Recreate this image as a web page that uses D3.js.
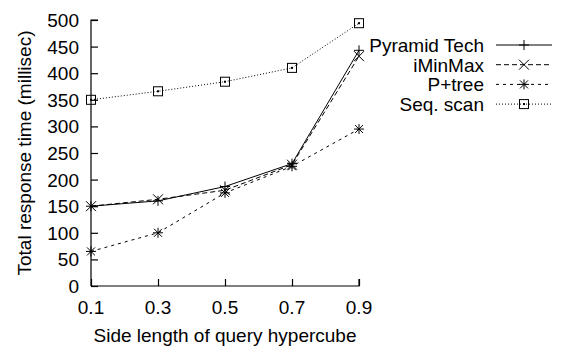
<!DOCTYPE html>
<html>
<head>
<meta charset="utf-8">
<script src="https://cdn.jsdelivr.net/npm/d3@7"></script>
<style>
  html, body { margin: 0; padding: 0; background: #fff; }
  svg { display: block; font-family: "Liberation Sans", Arial, sans-serif; }
</style>
</head>
<body>
<div id="chart"></div>
<script>
var sideLengths = [0.1, 0.3, 0.5, 0.7, 0.9];
var pyramidTech = [150, 160, 187, 230, 443];
var iMinMax = [150, 163, 180, 228, 432];
var pTree = [65, 100, 175, 225, 295];
var seqScan = [350, 366, 384, 410, 494];
var yTicks = [0, 50, 100, 150, 200, 250, 300, 350, 400, 450, 500];

var series = [
  { name: 'Pyramid Tech', values: pyramidTech, dash: null, marker: 'plus' },
  { name: 'iMinMax', values: iMinMax, dash: '5,3', marker: 'cross' },
  { name: 'P+tree', values: pTree, dash: '3,4', marker: 'star' },
  { name: 'Seq. scan', values: seqScan, dash: '1,2', marker: 'square' }
];

var width = 563, height = 350;
var margin = { top: 20, right: 204, bottom: 64, left: 91 };
var innerW = width - margin.left - margin.right;
var innerH = height - margin.top - margin.bottom;
var fontSize = '19px';

var x = d3.scaleLinear().domain([0.1, 0.9]).range([0, innerW]);
var y = d3.scaleLinear().domain([0, 500]).range([innerH, 0]);

var svg = d3.select('#chart').append('svg')
  .attr('width', width).attr('height', height);

var g = svg.append('g').attr('transform', 'translate(' + margin.left + ',' + margin.top + ')');

// axes: ticks point inward
var yAxis = g.append('g').call(d3.axisRight(y).tickValues(yTicks).tickSize(7).tickFormat(''));
yAxis.select('.domain').attr('d', 'M0,' + innerH + 'V0h7');
g.selectAll('.yl').data(yTicks).enter().append('text')
  .attr('x', -12).attr('y', function (d) { return y(d) + 7; })
  .attr('text-anchor', 'end').attr('font-size', fontSize).attr('fill', '#000')
  .text(function (d) { return d; });

var xAxis = g.append('g').attr('transform', 'translate(0,' + innerH + ')')
  .call(d3.axisTop(x).tickValues(sideLengths).tickSize(7).tickFormat(''));
xAxis.select('.domain').attr('d', 'M0,0H' + innerW + 'v-7');
g.selectAll('.xl').data(sideLengths).enter().append('text')
  .attr('x', function (d) { return x(d); }).attr('y', innerH + 28)
  .attr('text-anchor', 'middle').attr('font-size', fontSize).attr('fill', '#000')
  .text(function (d) { return d3.format('.1f')(d); });

[yAxis, xAxis].forEach(function (a) {
  a.selectAll('path, line').attr('stroke', '#000').attr('stroke-width', 1.2);
});

g.append('text')
  .attr('x', innerW / 2).attr('y', innerH + 56)
  .attr('text-anchor', 'middle').attr('font-size', fontSize)
  .text('Side length of query hypercube');

g.append('text')
  .attr('transform', 'translate(-60,' + (innerH / 2) + ') rotate(-90)')
  .attr('text-anchor', 'middle').attr('font-size', fontSize)
  .text('Total response time (millisec)');

function drawMarker(sel, type) {
  var s = 5;
  if (type === 'plus' || type === 'star') {
    sel.append('path').attr('d', 'M' + (-s) + ',0H' + s + 'M0,' + (-s) + 'V' + s);
  }
  if (type === 'cross' || type === 'star') {
    var c = type === 'star' ? 4 : 5;
    sel.append('path').attr('d', 'M' + (-c) + ',' + (-c) + 'L' + c + ',' + c + 'M' + (-c) + ',' + c + 'L' + c + ',' + (-c));
  }
  if (type === 'square') {
    sel.append('rect').attr('x', -4.5).attr('y', -4.5).attr('width', 9).attr('height', 9).attr('fill', 'none');
    sel.append('rect').attr('x', -0.5).attr('y', -0.5).attr('width', 1).attr('height', 1).attr('fill', '#000').attr('stroke', 'none');
  }
  sel.selectAll('path, rect').attr('stroke', '#000').attr('stroke-width', 1).attr('fill', function () {
    return d3.select(this).attr('fill') || 'none';
  });
}

var line = d3.line()
  .x(function (d, i) { return x(sideLengths[i]); })
  .y(function (d) { return y(d); });

series.forEach(function (s) {
  g.append('path')
    .datum(s.values)
    .attr('d', line)
    .attr('fill', 'none').attr('stroke', '#000').attr('stroke-width', 1)
    .attr('stroke-dasharray', s.dash);
  s.values.forEach(function (v, i) {
    var m = g.append('g').attr('transform', 'translate(' + x(sideLengths[i]) + ',' + y(v) + ')');
    drawMarker(m, s.marker);
  });
});

// legend
var legend = svg.append('g');
series.forEach(function (s, i) {
  var ly = 45 + i * 19.7;
  legend.append('text')
    .attr('x', 484).attr('y', ly + 7)
    .attr('text-anchor', 'end').attr('font-size', fontSize)
    .text(s.name);
  legend.append('line')
    .attr('x1', 496).attr('x2', 552).attr('y1', ly).attr('y2', ly)
    .attr('stroke', '#000').attr('stroke-width', 1)
    .attr('stroke-dasharray', s.dash);
  var m = legend.append('g').attr('transform', 'translate(524,' + ly + ')');
  drawMarker(m, s.marker);
});
</script>
</body>
</html>
